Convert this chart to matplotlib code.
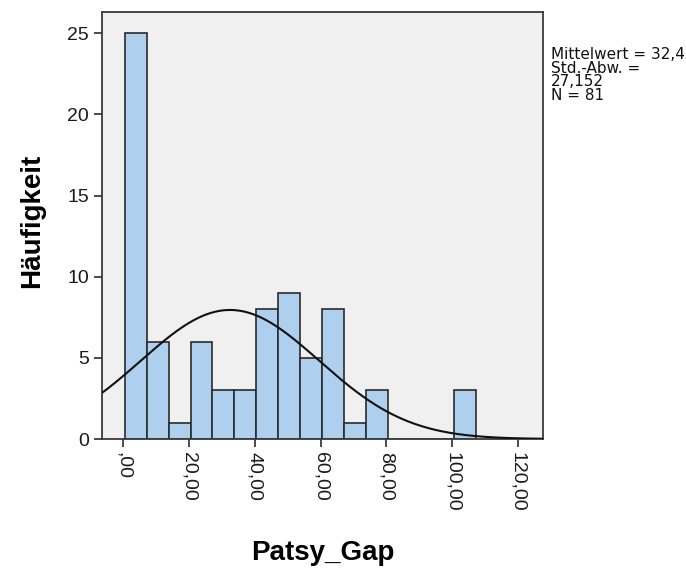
import numpy as np
import matplotlib
matplotlib.use("Agg")
import matplotlib.pyplot as plt

# Histogramm Patsy_Gap (SPSS-Ausgabe)
bin_start = 0.4
bin_width = 6.68
counts = [25, 6, 1, 6, 3, 3, 8, 9, 5, 8, 1, 3, 0, 0, 0, 3]
mittelwert = 32.45
std_abw = 27.152
n = 81
xticks = [0, 20, 40, 60, 80, 100, 120]
xtick_labels = [",00", "20,00", "40,00", "60,00", "80,00", "100,00", "120,00"]
yticks = [0, 5, 10, 15, 20, 25]

plt.rcParams['font.family'] = ['Liberation Sans', 'DejaVu Sans']

fig = plt.figure(figsize=(6.86, 5.70), dpi=100)
ax = fig.add_axes([0.1487, 0.2298, 0.6429, 0.749])
ax.set_facecolor('#f0f0f0')

edges = bin_start + bin_width * np.arange(len(counts))
ax.bar(edges, counts, width=bin_width, align='edge',
       color='#aed0ee', edgecolor='#2b2b2b', linewidth=1.2, zorder=2)

# Normalverteilungskurve
xs = np.linspace(-6.5, 128, 400)
ys = n * bin_width / (std_abw * np.sqrt(2 * np.pi)) * np.exp(-0.5 * ((xs - mittelwert) / std_abw) ** 2)
ax.plot(xs, ys, color='#111111', linewidth=1.5, zorder=3)

ax.set_xlim(-6.5, 127.7)
ax.set_ylim(0, 26.3)
ax.set_xticks(xticks)
ax.set_xticklabels(xtick_labels, rotation=-90, fontsize=14)
ax.set_yticks(yticks)
ax.set_yticklabels([str(v) for v in yticks], fontsize=14)
ax.tick_params(direction='out', length=6, width=1.2, color='#2b2b2b', labelcolor='#1a1a1a')
for s in ax.spines.values():
    s.set_color('#3a3a3a')
    s.set_linewidth(1.3)

ax.set_xlabel('Patsy_Gap', fontsize=20, fontweight='bold', labelpad=20)
ax.set_ylabel('Häufigkeit', fontsize=20, fontweight='bold')
ax.yaxis.set_label_coords(-0.128, 0.51)

fig.text(0.803, 0.917, "Mittelwert = 32,4\nStd.-Abw. =\n27,152\nN = 81",
         fontsize=11, family=['DejaVu Sans'], va='top', ha='left',
         linespacing=0.88, color='#111111')

fig.savefig('out.png', dpi=100, facecolor='white')
